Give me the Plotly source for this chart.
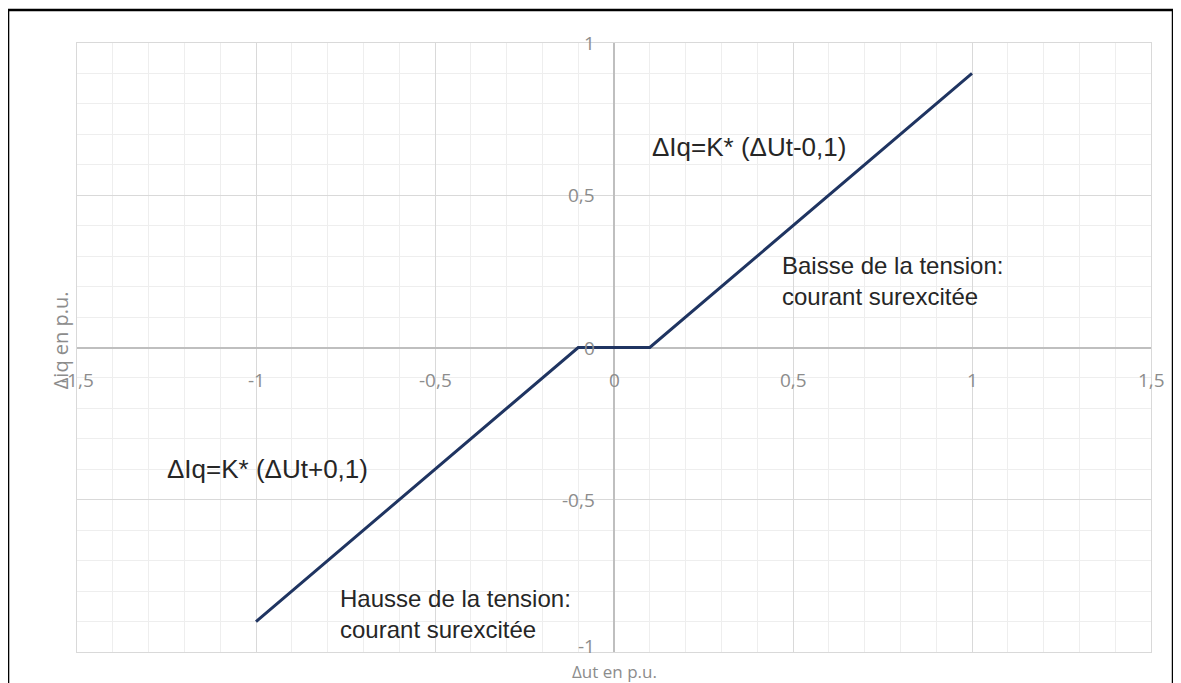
import plotly.graph_objects as go

# Data
du = [-1.0, -0.1, 0.1, 1.0]
diq = [-0.9, 0.0, 0.0, 0.9]

x_ticks = [-1.5, -1.0, -0.5, 0.0, 0.5, 1.0, 1.5]
x_tick_labels = ["-1,5", "-1", "-0,5", "0", "0,5", "1", "1,5"]
y_ticks = [1.0, 0.5, 0.0, -0.5, -1.0]
y_tick_labels = ["1", "0,5", "0", "-0,5", "-1"]

notes = [
    ("ΔIq=K* (ΔUt-0,1)", 0.10, 0.66, 26),
    ("Baisse de la tension:<br>courant surexcitée", 0.465, 0.22, 24),
    ("ΔIq=K* (ΔUt+0,1)", -1.255, -0.40, 26),
    ("Hausse de la tension:<br>courant surexcitée", -0.77, -0.875, 24),
]

fig = go.Figure()
fig.add_trace(go.Scatter(x=du, y=diq, mode="lines",
                         line=dict(color="#1f3461", width=3),
                         showlegend=False, hoverinfo="skip"))

tick_font = dict(family="Open Sans, DejaVu Sans, sans-serif", size=19, color="#8c8c8c")
title_font = dict(family="Open Sans, DejaVu Sans, sans-serif", size=17, color="#8c8c8c")
ann = []
for v, t in zip(x_ticks, x_tick_labels):
    ann.append(dict(x=v, y=0, xref="x", yref="y", text=t, showarrow=False,
                    xanchor="center", yanchor="middle", yshift=-32, font=tick_font))
for v, t in zip(y_ticks, y_tick_labels):
    ann.append(dict(x=0, y=v, xref="x", yref="y", text=t, showarrow=False,
                    xanchor="right", yanchor="middle", xshift=-17,
                    yshift=(6 if v == -1.0 else 0), font=tick_font))
for t, x, y, s in notes:
    ann.append(dict(x=x, y=y, xref="x", yref="y", text=t, showarrow=False,
                    xanchor="left", yanchor="middle", align="left",
                    font=dict(family="Liberation Sans, Arial, sans-serif", size=s, color="#262626")))
ann.append(dict(x=0.5, y=-0.0312, xref="paper", yref="paper", text="Δut en p.u.",
                showarrow=False, xanchor="center", yanchor="middle", font=title_font))
ann.append(dict(x=-0.0158, y=0.512, xref="paper", yref="paper", text="Δiq en p.u.",
                showarrow=False, xanchor="center", yanchor="middle", textangle=-90,
                font=dict(family="Open Sans, DejaVu Sans, sans-serif", size=20, color="#8c8c8c")))

fig.update_layout(
    width=1181, height=683,
    margin=dict(l=69, r=38, t=35, b=39),
    paper_bgcolor="white", plot_bgcolor="white",
    annotations=ann,
    shapes=[dict(type="rect", xref="paper", yref="paper",
                 x0=-0.0642, x1=1.0205, y0=-0.2, y1=1.054,
                 line=dict(color="black", width=2.5), layer="above")],
)
fig.update_xaxes(range=[-1.5, 1.5], dtick=0.5, tick0=0, showticklabels=False,
                 showgrid=True, gridcolor="#d9d9d9", gridwidth=1,
                 minor=dict(dtick=0.1, showgrid=True, gridcolor="#eeeeee", gridwidth=1),
                 zeroline=True, zerolinecolor="#bfbfbf", zerolinewidth=1.5,
                 showline=True, linecolor="#d9d9d9", mirror=True, ticks="")
fig.update_yaxes(range=[-1, 1], dtick=0.5, tick0=0, showticklabels=False,
                 showgrid=True, gridcolor="#d9d9d9", gridwidth=1,
                 minor=dict(dtick=0.1, showgrid=True, gridcolor="#eeeeee", gridwidth=1),
                 zeroline=True, zerolinecolor="#bfbfbf", zerolinewidth=1.5,
                 showline=True, linecolor="#d9d9d9", mirror=True, ticks="")

fig.write_html("out.html")
